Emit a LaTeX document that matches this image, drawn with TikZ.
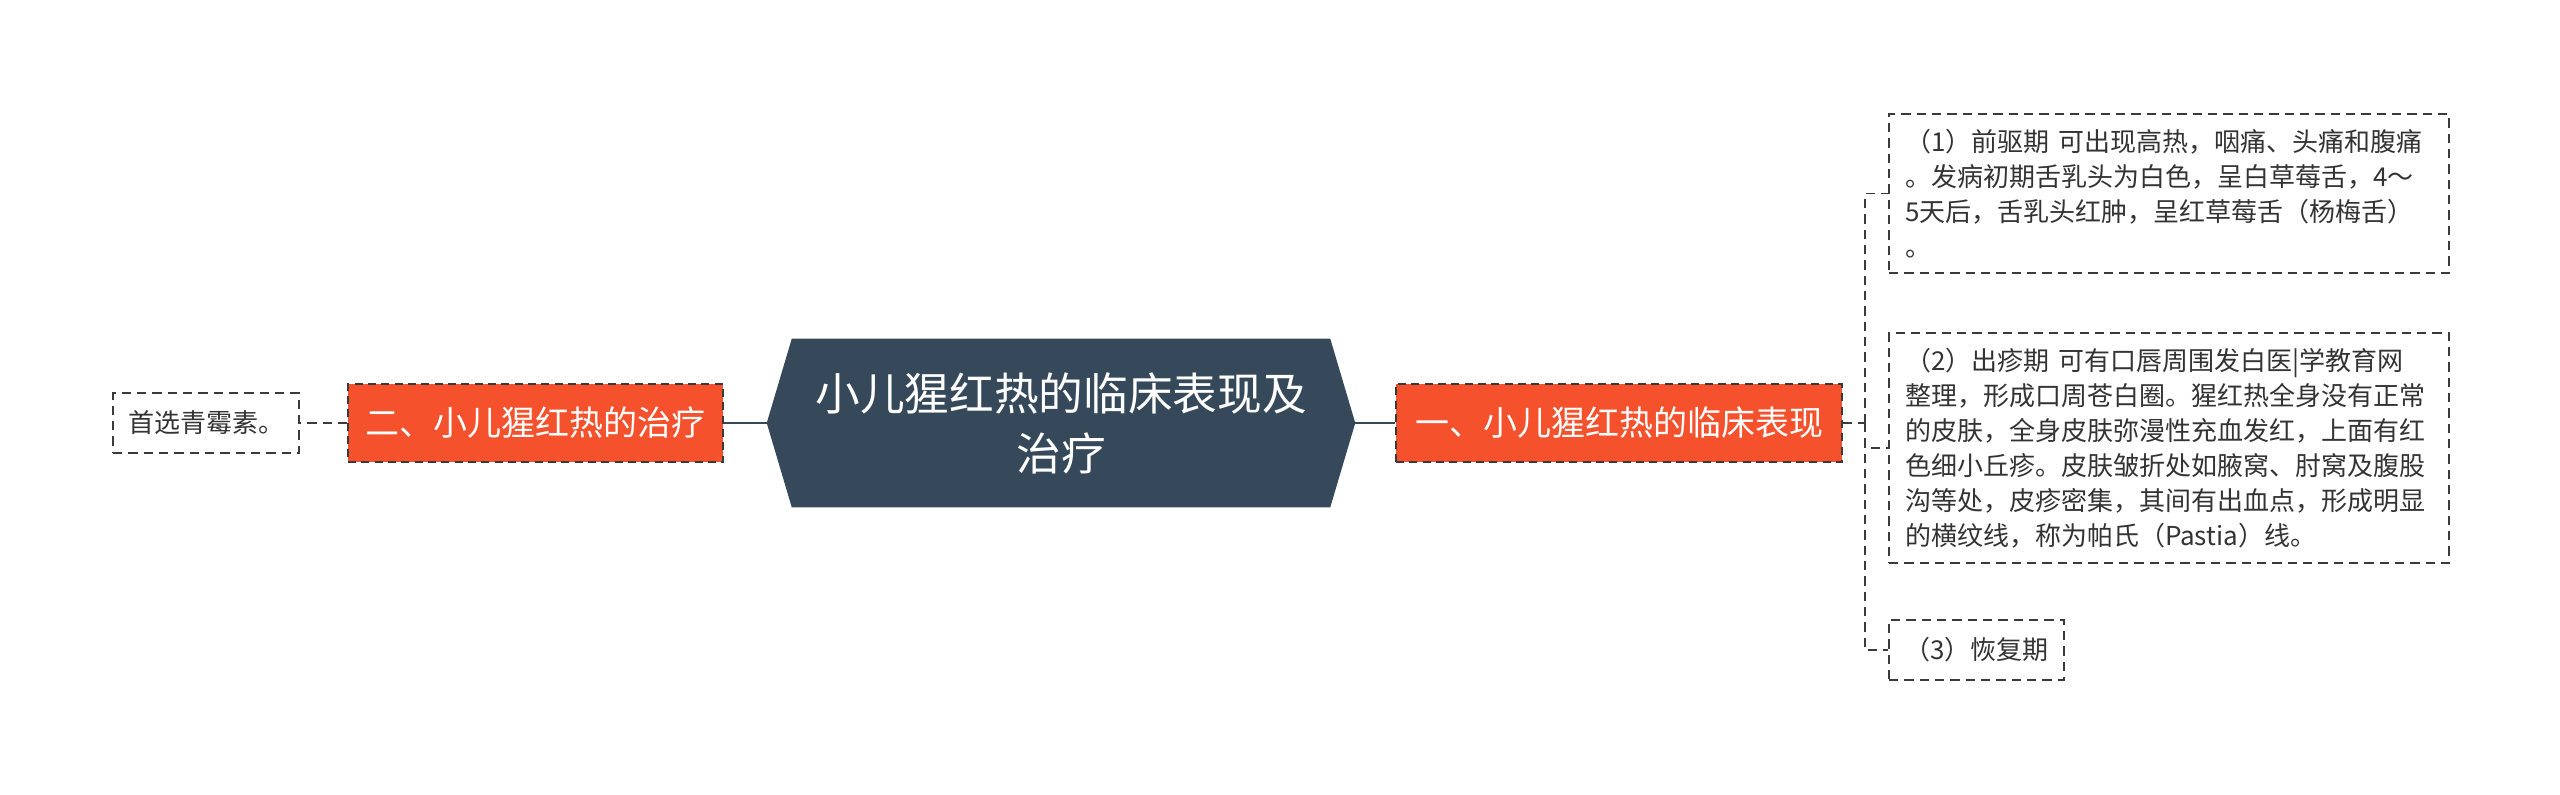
\documentclass[tikz,border=0pt]{standalone}
\usepackage{fontspec}
\setmainfont{Noto Sans CJK SC}
\usetikzlibrary{calc,backgrounds}
\definecolor{hexfill}{HTML}{36495B}
\definecolor{orangefill}{HTML}{F4512C}
\definecolor{linecol}{HTML}{36495B}
\definecolor{dashcol}{HTML}{3A3A3A}
\definecolor{txt}{HTML}{333333}
\begin{document}
\begin{tikzpicture}[x=0.75pt,y=-0.75pt,
  hexnode/.style={minimum width=441pt, minimum height=126pt, inner sep=0pt, text=white, align=center, font=\fontsize{33.5pt}{45pt}\selectfont},
  mainbranch/.style={fill=orangefill, draw=dashcol, dash pattern=on 6pt off 4pt, line width=1.2pt, text=white, minimum height=58.5pt, inner sep=0pt, font=\fontsize{25.5pt}{30pt}\selectfont},
  leafbox/.style={draw=dashcol, dash pattern=on 7pt off 4.5pt, line width=1.2pt, text=txt, inner xsep=12pt, inner ysep=0pt, font=\fontsize{19.5pt}{26.25pt}\selectfont},
  solidlink/.style={draw=linecol, line width=2.2pt},
  dashlink/.style={draw=dashcol, line width=1.3pt, dash pattern=on 7pt off 4.5pt}
]
\useasboundingbox (0,0) rectangle (2560,795);

\node[hexnode] (c) at (1061,423) {小儿猩红热的临床表现及\\治疗};
\begin{scope}[on background layer]
\fill[hexfill] (c.west) -- ($(c.north west)+(25,0)$) -- ($(c.north east)+(-25,0)$) -- (c.east) -- ($(c.south east)+(-25,0)$) -- ($(c.south west)+(25,0)$) -- cycle;
\end{scope}

\node[mainbranch, minimum width=334.5pt] (r1) at (1619,423) {一、小儿猩红热的临床表现};
\node[mainbranch, minimum width=281.25pt] (l1) at (535.5,423) {二、小儿猩红热的治疗};

\node[leafbox, minimum width=139.5pt, minimum height=45pt, inner xsep=0pt] (ll) at (206,423) {首选青霉素。};

\node[leafbox, text width=396pt, minimum height=119.25pt, align=left] (leaf1) at (2169,193.5) {（1）前驱期 可出现高热，咽痛、头痛和腹痛\\。发病初期舌乳头为白色，呈白草莓舌，4～\\5天后，舌乳头红肿，呈红草莓舌（杨梅舌）\\。};
\node[leafbox, text width=396pt, minimum height=172.5pt, align=left] (leaf2) at (2169,448) {（2）出疹期 可有口唇周围发白医|学教育网\\整理，形成口周苍白圈。猩红热全身没有正常\\的皮肤，全身皮肤弥漫性充血发红，上面有红\\色细小丘疹。皮肤皱折处如腋窝、肘窝及腹股\\沟等处，皮疹密集，其间有出血点，形成明显\\的横纹线，称为帕氏（Pastia）线。};
\node[leafbox, minimum width=131.25pt, minimum height=45pt, inner xsep=0pt] (leaf3) at (1976.5,650) {（3）恢复期};

\coordinate (jr) at (1865,423);

\draw[solidlink] (c.east) -- (r1.west);
\draw[solidlink] (c.west) -- (l1.east);
\draw[dashlink] (l1.west) -- (ll.east);
\draw[dashlink] (r1.east) -- (jr);
\draw[dashlink] (jr) |- (leaf1.west);
\draw[dashlink] (jr) |- (leaf2.west);
\draw[dashlink] (jr) |- (leaf3.west);
\end{tikzpicture}
\end{document}
